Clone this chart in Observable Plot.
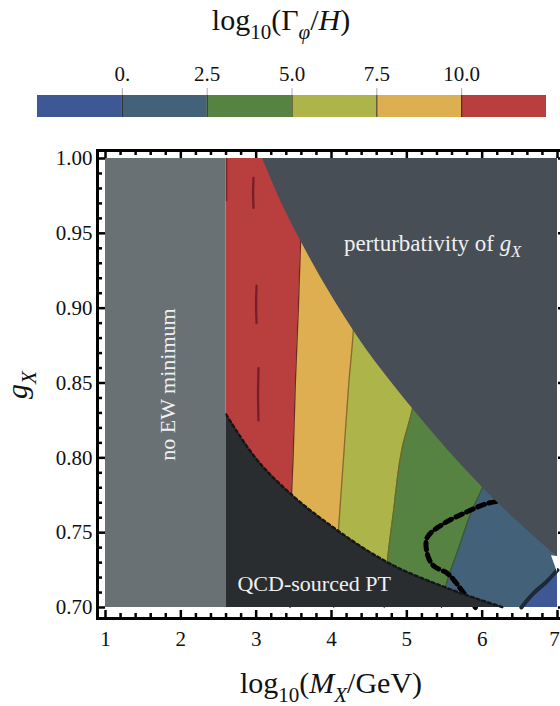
<!DOCTYPE html>
<html><head><meta charset="utf-8">
<script src="https://cdn.jsdelivr.net/npm/d3@7"></script>
<script src="https://cdn.jsdelivr.net/npm/@observablehq/plot@0.6"></script>
<style>
html,body{margin:0;padding:0;background:#fff;overflow:hidden;}
#wrap{position:relative;width:560px;height:706px;}
#cb{position:absolute;left:0;top:0;}
#main{position:absolute;left:0;top:130px;}
#ov{position:absolute;left:0;top:0;pointer-events:none;}
</style></head><body>
<div id="wrap"><div id="cb"></div><div id="main"></div></div>
<script>
// ---------------- data ----------------
const levels = [0, 2.5, 5, 7.5, 10];
const levelLabels = ["0.", "2.5", "5.0", "7.5", "10.0"];
const barEdges = [-2.5, 0, 2.5, 5, 7.5, 10, 12.5];
const bandColors = ["#3e5795", "#436178", "#578342", "#adb44a", "#deaf50", "#b93e3e"];
const xDomain = [1, 7];
const yDomain = [0.70, 1.00];
const xTicks = [1, 2, 3, 4, 5, 6, 7];
const yTicks = [0.70, 0.75, 0.80, 0.85, 0.90, 0.95, 1.00];
const noEwEdge = 2.6;
// contour lines of log10(Gamma/H), [log10 MX, gX]
const contour10 = [[3.45,0.70],[3.47,0.775],[3.49,0.80],[3.52,0.85],[3.56,0.90],[3.59,0.945],[3.62,1.00]];
const contour75 = [[4.03,0.70],[4.09,0.75],[4.16,0.80],[4.23,0.85],[4.29,0.885],[4.33,0.95],[4.37,1.00]];
const contour5  = [[4.70,0.70],[4.74,0.73],[4.82,0.763],[4.94,0.807],[5.075,0.833],[5.15,0.87],[5.30,1.00]];
const contour25 = [[5.46,0.70],[5.51,0.713],[5.55,0.72],[5.69,0.74],[5.85,0.763],[6.005,0.78],[6.25,0.81],[6.6,0.86]];
const contour0  = [[6.52,0.70],[6.68,0.7094],[6.87,0.718],[6.97,0.7234],[7.0,0.725]];
// small islands in the red band
const sliverA = [[2.965,0.987],[2.959,0.977],[2.965,0.967]];
const sliverB = [[3.005,0.915],[2.999,0.903],[3.005,0.890]];
const sliverC = [[3.031,0.860],[3.025,0.842],[3.031,0.825]];
const sliverD = [[2.607,1.0],[2.607,0.972]];
// region boundaries
const pertEdge = [[3.084,1.0],[3.323,0.9719],[3.589,0.9452],[4.292,0.8851],[5.075,0.833],[6.005,0.7802],[6.934,0.7368],[7.0,0.734]];
const qcdEdge  = [[2.6,0.829],[2.965,0.8016],[3.482,0.7748],[3.987,0.7548],[4.744,0.7301],[5.513,0.7134],[6.283,0.70]];
const blankNotch = [[6.92,0.7345,0.7345],[7.0,0.7234,0.734]];
// dashed contour
const dashedLoop = [[6.5,0.772],[6.31,0.7715],[6.07,0.7695],[5.75,0.7628],[5.45,0.7548],[5.27,0.7468],[5.27,0.7361],[5.35,0.7281],[5.54,0.7227],[5.65,0.7167],[5.78,0.708],[5.91,0.70]];
const regionLabels = [
  {text: "no EW minimum", x: 1.823, y: 0.849, rotate: -90, size: 22},
  {text: "QCD-sourced PT", x: 3.77, y: 0.716, rotate: 0, size: 22},
  {text: "perturbativity of gX", x: 5.34, y: 0.943, rotate: 0, size: 23}
];

// ---------------- colorbar ----------------
const barBins = barEdges.slice(0, -1).map((e, i) => ({x1: e, x2: barEdges[i + 1], mid: (e + barEdges[i + 1]) / 2}));
const cb = Plot.plot({
  width: 560, height: 130,
  marginTop: 95, marginBottom: 13, marginLeft: 37, marginRight: 14,
  style: {fontFamily: "'Liberation Serif', serif", fontSize: "21px", background: "white", color: "#111"},
  x: {domain: [barEdges[0], barEdges[barEdges.length - 1]], axis: null},
  y: {domain: [0, 1], axis: null},
  color: {type: "threshold", domain: levels, range: bandColors},
  marks: [
    Plot.rect(barBins, {x1: "x1", x2: "x2", y1: 0, y2: 1, fill: "mid"}),
    Plot.tickX(levels, {x: d => d, stroke: "#2b2b2b", strokeWidth: 1}),
    Plot.tickX(levels, {x: d => d, stroke: "#aaa", strokeWidth: 1, insetTop: -7, insetBottom: 22}),
    Plot.text(levels, {x: d => d, text: (d, i) => levelLabels[i], frameAnchor: "top", dy: -29, fill: "#111"})
  ]
});
document.getElementById("cb").appendChild(cb);

// ---------------- main plot ----------------
const FH = 468;   // frame height (px)
const FW = 463;   // frame width inside svg (px)
const xMinor = d3.range(1, 7.0001, 0.2).map(v => +v.toFixed(2)).filter(v => Math.abs(v - Math.round(v)) > 1e-6);
const yMinor = d3.range(0.70, 1.0001, 0.01).map(v => +v.toFixed(2)).filter(v => Math.abs(v * 20 - Math.round(v * 20)) > 1e-6);
const tk = {stroke: "black", strokeWidth: 2.5};
const P = d => d[0], Q = d => d[1];

const main = Plot.plot({
  width: 560, height: 576,
  marginTop: 20, marginBottom: 88, marginLeft: 97, marginRight: 0,
  style: {fontFamily: "'Liberation Serif', serif", fontSize: "21px", background: "white", color: "#111"},
  x: {domain: xDomain, insetLeft: 8, insetRight: 3, ticks: xTicks, tickSize: 0, tickPadding: 13, label: null, tickFormat: d => String(d)},
  y: {domain: yDomain, insetTop: 8, insetBottom: 11, ticks: yTicks, tickSize: 0, tickPadding: 5, label: null, tickFormat: d => d.toFixed(2)},
  marks: [
    // bands
    Plot.rect([0], {x1: noEwEdge, x2: xDomain[1], y1: yDomain[0], y2: yDomain[1], fill: bandColors[5]}),
    Plot.areaX(contour10, {y: Q, x1: P, x2: xDomain[1], fill: bandColors[4], curve: "monotone-y"}),
    Plot.areaX(contour75, {y: Q, x1: P, x2: xDomain[1], fill: bandColors[3], curve: "monotone-y"}),
    Plot.areaX(contour5,  {y: Q, x1: P, x2: xDomain[1], fill: bandColors[2], curve: "monotone-y"}),
    Plot.areaX(contour25, {y: Q, x1: P, x2: xDomain[1], fill: bandColors[1], curve: "monotone-y"}),
    Plot.areaX(contour0,  {y: Q, x1: P, x2: xDomain[1], fill: bandColors[0], curve: "monotone-y"}),
    // contour lines
    Plot.line(contour10, {x: P, y: Q, stroke: "#6e2a22", strokeWidth: 1.3, curve: "monotone-y"}),
    Plot.line(contour75, {x: P, y: Q, stroke: "#8a6a30", strokeWidth: 1.3, curve: "monotone-y"}),
    Plot.line(contour5,  {x: P, y: Q, stroke: "#6a6a2a", strokeWidth: 1.3, curve: "monotone-y"}),
    Plot.line(contour25, {x: P, y: Q, stroke: "#3e5a30", strokeWidth: 1.3, curve: "monotone-y"}),
    Plot.line(contour0,  {x: P, y: Q, stroke: "#1d2935", strokeWidth: 4, curve: "monotone-y"}),
    Plot.line(sliverA, {x: P, y: Q, stroke: "#74202a", strokeWidth: 2.3, strokeLinecap: "round", curve: "catmull-rom"}),
    Plot.line(sliverB, {x: P, y: Q, stroke: "#74202a", strokeWidth: 2.3, strokeLinecap: "round", curve: "catmull-rom"}),
    Plot.line(sliverC, {x: P, y: Q, stroke: "#74202a", strokeWidth: 2.3, strokeLinecap: "round", curve: "catmull-rom"}),
    Plot.line(sliverD, {x: P, y: Q, stroke: "#7a2424", strokeWidth: 1.5}),
    // dashed loop
    Plot.line(dashedLoop, {x: P, y: Q, stroke: "black", strokeWidth: 5, strokeDasharray: "7,5", curve: "catmull-rom"}),
    // excluded regions
    Plot.areaY(pertEdge, {x: P, y1: Q, y2: yDomain[1], fill: "#474e55", curve: "monotone-x"}),
    Plot.areaY(blankNotch, {x: P, y1: Q, y2: d => d[2], fill: "white"}),
    Plot.areaY(qcdEdge, {x: P, y1: yDomain[0], y2: Q, fill: "#2a2d30", curve: "monotone-x"}),
    Plot.line(qcdEdge, {x: P, y: Q, stroke: "#141617", strokeWidth: 2.5, strokeDasharray: "3,3", curve: "monotone-x"}),
    Plot.rect([0], {x1: xDomain[0], x2: noEwEdge, y1: yDomain[0], y2: yDomain[1], fill: "#6a7174"}),
    // labels
    Plot.text(regionLabels, {x: "x", y: "y", text: "text", rotate: "rotate", fontSize: "size", fill: "#f0f0f0"}),
    // frame & inward ticks
    Plot.frame({stroke: "black", strokeWidth: 3, insetRight: -6}),
    Plot.tickX(xTicks, {x: d => d, insetTop: FH - 8, ...tk}),
    Plot.tickX(xTicks, {x: d => d, insetBottom: FH - 8, ...tk}),
    Plot.tickX(xMinor, {x: d => d, insetTop: FH - 5, ...tk}),
    Plot.tickX(xMinor, {x: d => d, insetBottom: FH - 5, ...tk}),
    Plot.tickY(yTicks, {y: d => d, insetRight: FW - 8, ...tk}),
    Plot.tickY(yMinor, {y: d => d, insetRight: FW - 5, ...tk}),
    Plot.tickY(yTicks, {y: d => d, insetLeft: FW - 2, insetRight: -6, ...tk}),
    Plot.tickY(yMinor, {y: d => d, insetLeft: FW + 1, insetRight: -6, ...tk})
  ]
});
document.getElementById("main").appendChild(main);

// subscript in the perturbativity label
d3.select(main).selectAll("text").filter(function() { return this.textContent === "perturbativity of gX"; })
  .each(function() {
    const s = d3.select(this);
    s.text(null);
    s.append("tspan").text("perturbativity of ");
    s.append("tspan").attr("font-style", "italic").text("g");
    s.append("tspan").attr("font-style", "italic").attr("font-size", 16).attr("dy", 6).text("X");
  });
// keep the last x tick label inside the picture
d3.select(main).selectAll("text").filter(function() { return this.textContent === String(xTicks[xTicks.length - 1]) && !this.closest("[aria-label='y-axis tick label']"); })
  .attr("dx", -3);

// ---------------- titles (overlay) ----------------
const ov = d3.create("svg").attr("id", "ov").attr("width", 560).attr("height", 706);
function addMath(x, y, size, parts, rot) {
  const t = ov.append("text").attr("x", x).attr("y", y).attr("font-size", size)
    .attr("text-anchor", "middle").attr("font-family", "'Liberation Serif', serif").attr("fill", "#111");
  if (rot) t.attr("transform", `rotate(${rot},${x},${y})`);
  let shifted = 0;
  for (const p of parts) {
    const s = t.append("tspan").text(p.t);
    if (p.i) s.attr("font-style", "italic");
    const want = p.sub ? size * 0.3 : 0;
    if (want !== shifted) { s.attr("dy", want - shifted); shifted = want; }
    if (p.sub) s.attr("font-size", size * 0.7);
  }
}
addMath(281, 30, 30, [{t: "log"}, {t: "10", sub: 1}, {t: "(Γ"}, {t: "φ", i: 1, sub: 1}, {t: "/"}, {t: "H", i: 1}, {t: ")"}]);
addMath(331, 693, 30, [{t: "log"}, {t: "10", sub: 1}, {t: "("}, {t: "M", i: 1}, {t: "X", i: 1, sub: 1}, {t: "/GeV)"}]);
addMath(27, 385, 30, [{t: "g", i: 1}, {t: "X", i: 1, sub: 1}], -90);
document.getElementById("wrap").appendChild(ov.node());
</script>
</body></html>
